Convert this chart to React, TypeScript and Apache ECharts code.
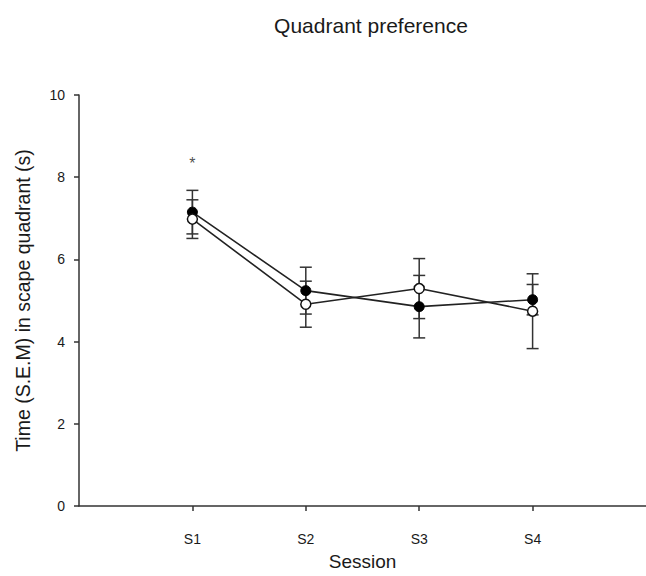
import React, { useEffect, useRef } from "react";
import * as echarts from "echarts";

const categories = ["S1", "S2", "S3", "S4"];
const filledMeans = [7.15, 5.24, 4.85, 5.02];
const filledSem = [0.53, 0.57, 0.76, 0.37];
const openMeans = [6.98, 4.91, 5.29, 4.74];
const openSem = [0.47, 0.56, 0.73, 0.91];
const yTicks = [0, 2, 4, 6, 8, 10];
const sigMarks = [{ session: "S1", y: 8.33, text: "*" }];

const axisCats = ["", ...categories, " "];
const FONT = "'Liberation Sans', Arial, sans-serif";
const INK = "#1a1a1a";

export default function App() {
  const ref = useRef<HTMLDivElement>(null);
  useEffect(() => {
    if (!ref.current) return;
    const chart = echarts.init(ref.current, undefined, { renderer: "svg" });
    const errData = (means: number[], sem: number[]) =>
      categories.map((c, i) => [c, means[i] - sem[i], means[i] + sem[i]]);
    const errSeries = (means: number[], sem: number[]) => ({
      type: "custom",
      z: 1,
      silent: true,
      data: errData(means, sem),
      encode: { x: 0, y: [1, 2] },
      renderItem: (params: any, api: any) => {
        const x = api.value(0);
        const lo = api.coord([x, api.value(1)]);
        const hi = api.coord([x, api.value(2)]);
        const w = 6;
        const style = { stroke: "#333", lineWidth: 1.5 };
        return {
          type: "group",
          children: [
            { type: "line", shape: { x1: lo[0], y1: lo[1], x2: hi[0], y2: hi[1] }, style },
            { type: "line", shape: { x1: lo[0] - w, y1: lo[1], x2: lo[0] + w, y2: lo[1] }, style },
            { type: "line", shape: { x1: hi[0] - w, y1: hi[1], x2: hi[0] + w, y2: hi[1] }, style },
          ],
        };
      },
    });
    chart.setOption({
      animation: false,
      backgroundColor: "#fff",
      title: {
        text: "Quadrant preference",
        left: 366,
        top: 10,
        textAlign: "center",
        textStyle: { fontFamily: FONT, fontSize: 21, fontWeight: "normal", color: INK },
      },
      grid: { left: 79, top: 95, width: 575, height: 416 },
      xAxis: {
        type: "category",
        data: axisCats,
        boundaryGap: false,
        name: "Session",
        nameLocation: "middle",
        nameGap: 46,
        nameTextStyle: { fontFamily: FONT, fontSize: 19, color: INK },
        axisLine: { lineStyle: { color: "#333", width: 1.5 } },
        axisTick: {
          show: true,
          length: 5,
          interval: (i: number, v: string) => categories.includes(v),
          lineStyle: { color: "#333", width: 1.5 },
        },
        axisLabel: {
          interval: (i: number, v: string) => categories.includes(v),
          margin: 26,
          fontFamily: FONT,
          fontSize: 14,
          color: INK,
        },
        splitLine: { show: false },
      },
      yAxis: {
        type: "value",
        min: yTicks[0],
        max: yTicks[yTicks.length - 1],
        interval: 2,
        name: "Time (S.E.M) in scape quadrant (s)",
        nameLocation: "middle",
        nameGap: 46,
        nameTextStyle: { fontFamily: FONT, fontSize: 19.5, color: INK },
        axisLine: { show: true, lineStyle: { color: "#333", width: 1.5 } },
        axisTick: { show: true, length: 5, lineStyle: { color: "#333", width: 1.5 } },
        axisLabel: { margin: 14, fontFamily: FONT, fontSize: 14, color: INK },
        splitLine: { show: false },
      },
      series: [
        errSeries(filledMeans, filledSem),
        errSeries(openMeans, openSem),
        {
          type: "line",
          z: 3,
          data: categories.map((c, i) => [c, filledMeans[i]]),
          symbol: "circle",
          symbolSize: 10,
          lineStyle: { color: "#222", width: 1.6 },
          itemStyle: { color: "#000", borderColor: "#000", borderWidth: 1 },
        },
        {
          type: "line",
          z: 4,
          data: categories.map((c, i) => [c, openMeans[i]]),
          symbol: "circle",
          symbolSize: 10,
          lineStyle: { color: "#222", width: 1.6 },
          itemStyle: { color: "#fff", borderColor: "#111", borderWidth: 1.5 },
        },
        {
          type: "scatter",
          z: 5,
          symbolSize: 1,
          itemStyle: { color: "rgba(0,0,0,0)" },
          data: sigMarks.map((m) => [m.session, m.y]),
          label: {
            show: true,
            position: "inside",
            formatter: (p: any) => sigMarks[p.dataIndex].text,
            fontFamily: FONT,
            fontSize: 16,
            color: INK,
          },
        },
      ],
    });
    return () => chart.dispose();
  }, []);
  return (
    <div
      ref={ref}
      style={{ position: "absolute", left: 0, top: 0, width: 646, height: 576 }}
    />
  );
}
